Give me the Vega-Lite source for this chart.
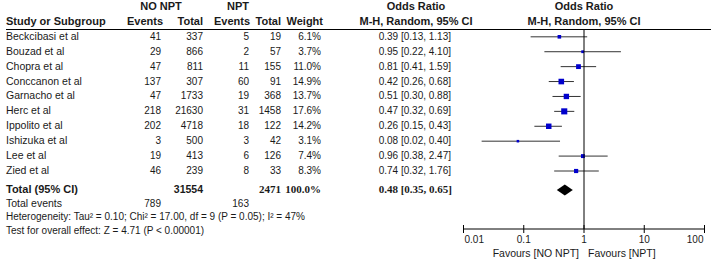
{
  "$schema": "https://vega.github.io/schema/vega-lite/v6.json",
  "width": 711,
  "height": 261,
  "autosize": {"type": "fit", "contains": "padding"},
  "padding": 0,
  "background": "white",
  "config": {
    "view": {"stroke": null},
    "text": {"font": "Liberation Sans", "fontSize": 10, "color": "#1a1a1a", "baseline": "middle"}
  },
  "datasets": {
    "studies": [
      {"study": "Beckcibasi et al", "e1": 41, "n1": 337, "e2": 5, "n2": 19, "weight": 0.061, "or": 0.39, "lo": 0.13, "hi": 1.13, "ci": "0.39 [0.13, 1.13]"},
      {"study": "Bouzad et al", "e1": 29, "n1": 866, "e2": 2, "n2": 57, "weight": 0.037, "or": 0.95, "lo": 0.22, "hi": 4.10, "ci": "0.95 [0.22, 4.10]"},
      {"study": "Chopra et al", "e1": 47, "n1": 811, "e2": 11, "n2": 155, "weight": 0.110, "or": 0.81, "lo": 0.41, "hi": 1.59, "ci": "0.81 [0.41, 1.59]"},
      {"study": "Conccanon et al", "e1": 137, "n1": 307, "e2": 60, "n2": 91, "weight": 0.149, "or": 0.42, "lo": 0.26, "hi": 0.68, "ci": "0.42 [0.26, 0.68]"},
      {"study": "Garnacho et al", "e1": 47, "n1": 1733, "e2": 19, "n2": 368, "weight": 0.137, "or": 0.51, "lo": 0.30, "hi": 0.88, "ci": "0.51 [0.30, 0.88]"},
      {"study": "Herc et al", "e1": 218, "n1": 21630, "e2": 31, "n2": 1458, "weight": 0.176, "or": 0.47, "lo": 0.32, "hi": 0.69, "ci": "0.47 [0.32, 0.69]"},
      {"study": "Ippolito et al", "e1": 202, "n1": 4718, "e2": 18, "n2": 122, "weight": 0.142, "or": 0.26, "lo": 0.15, "hi": 0.43, "ci": "0.26 [0.15, 0.43]"},
      {"study": "Ishizuka et al", "e1": 3, "n1": 500, "e2": 3, "n2": 42, "weight": 0.031, "or": 0.08, "lo": 0.02, "hi": 0.40, "ci": "0.08 [0.02, 0.40]"},
      {"study": "Lee et al", "e1": 19, "n1": 413, "e2": 6, "n2": 126, "weight": 0.074, "or": 0.96, "lo": 0.38, "hi": 2.47, "ci": "0.96 [0.38, 2.47]"},
      {"study": "Zied et al", "e1": 46, "n1": 239, "e2": 8, "n2": 33, "weight": 0.083, "or": 0.74, "lo": 0.32, "hi": 1.76, "ci": "0.74 [0.32, 1.76]"}
    ],
    "total": [
      {"label": "Total (95% CI)", "n1": 31554, "n2": 2471, "weight": 1.0, "or": 0.48, "lo": 0.35, "hi": 0.65, "ci": "0.48 [0.35, 0.65]"}
    ],
    "events": [
      {"label": "Total events", "e1": 789, "e2": 163}
    ],
    "notes": [
      {"label": "Heterogeneity", "text": "Heterogeneity: Tau² = 0.10; Chi² = 17.00, df = 9 (P = 0.05); I² = 47%"},
      {"label": "Test", "text": "Test for overall effect: Z = 4.71 (P < 0.00001)"}
    ],
    "ticks": [
      {"t": 0.01, "label": "0.01"},
      {"t": 0.1, "label": "0.1"},
      {"t": 1, "label": "1"},
      {"t": 10, "label": "10"},
      {"t": 100, "label": "100"}
    ]
  },
  "resolve": {"scale": {"y": "independent"}},
  "layer": [
    {
      "layer": [
        {
          "data": {"name": "studies"},
          "mark": {"type": "text", "align": "left", "fontSize": 10.5},
          "encoding": {
            "x": {"value": 6},
            "y": {"field": "study", "type": "nominal", "axis": null,
                  "scale": {"type": "point", "padding": 0, "range": [7, 171],
                            "domain": ["h1", "h2", "Beckcibasi et al", "Bouzad et al", "Chopra et al", "Conccanon et al", "Garnacho et al", "Herc et al", "Ippolito et al", "Ishizuka et al", "Lee et al", "Zied et al"]}},
            "text": {"field": "study"}
          }
        },
        {"data": {"name": "studies"}, "mark": {"type": "text", "align": "right"},
         "encoding": {"x": {"value": 161}, "y": {"field": "study", "type": "nominal"}, "text": {"field": "e1", "type": "quantitative", "format": "d"}}},
        {"data": {"name": "studies"}, "mark": {"type": "text", "align": "right"},
         "encoding": {"x": {"value": 203}, "y": {"field": "study", "type": "nominal"}, "text": {"field": "n1", "type": "quantitative", "format": "d"}}},
        {"data": {"name": "studies"}, "mark": {"type": "text", "align": "right"},
         "encoding": {"x": {"value": 249}, "y": {"field": "study", "type": "nominal"}, "text": {"field": "e2", "type": "quantitative", "format": "d"}}},
        {"data": {"name": "studies"}, "mark": {"type": "text", "align": "right"},
         "encoding": {"x": {"value": 281}, "y": {"field": "study", "type": "nominal"}, "text": {"field": "n2", "type": "quantitative", "format": "d"}}},
        {"data": {"name": "studies"}, "mark": {"type": "text", "align": "right"},
         "encoding": {"x": {"value": 321}, "y": {"field": "study", "type": "nominal"}, "text": {"field": "weight", "type": "quantitative", "format": ".1%"}}},
        {"data": {"name": "studies"}, "mark": {"type": "text", "align": "right"},
         "encoding": {"x": {"value": 451}, "y": {"field": "study", "type": "nominal"}, "text": {"field": "ci"}}},

        {"data": {"values": [{}]}, "mark": {"type": "text", "align": "center", "fontWeight": "bold", "fontSize": 11},
         "encoding": {"x": {"value": 161}, "y": {"datum": "h1", "type": "nominal"}, "text": {"value": "NO NPT"}}},
        {"data": {"values": [{}]}, "mark": {"type": "text", "align": "center", "fontWeight": "bold", "fontSize": 11},
         "encoding": {"x": {"value": 238}, "y": {"datum": "h1", "type": "nominal"}, "text": {"value": "NPT"}}},
        {"data": {"values": [{}]}, "mark": {"type": "text", "align": "center", "fontWeight": "bold", "fontSize": 11},
         "encoding": {"x": {"value": 416}, "y": {"datum": "h1", "type": "nominal"}, "text": {"value": "Odds Ratio"}}},
        {"data": {"values": [{}]}, "mark": {"type": "text", "align": "center", "fontWeight": "bold", "fontSize": 11},
         "encoding": {"x": {"value": 584}, "y": {"datum": "h1", "type": "nominal"}, "text": {"value": "Odds Ratio"}}},
        {"data": {"values": [{}]}, "mark": {"type": "text", "align": "left", "fontWeight": "bold", "fontSize": 11},
         "encoding": {"x": {"value": 6}, "y": {"datum": "h2", "type": "nominal"}, "text": {"value": "Study or Subgroup"}}},
        {"data": {"values": [{}]}, "mark": {"type": "text", "align": "right", "fontWeight": "bold", "fontSize": 11},
         "encoding": {"x": {"value": 163}, "y": {"datum": "h2", "type": "nominal"}, "text": {"value": "Events"}}},
        {"data": {"values": [{}]}, "mark": {"type": "text", "align": "right", "fontWeight": "bold", "fontSize": 11},
         "encoding": {"x": {"value": 203}, "y": {"datum": "h2", "type": "nominal"}, "text": {"value": "Total"}}},
        {"data": {"values": [{}]}, "mark": {"type": "text", "align": "right", "fontWeight": "bold", "fontSize": 11},
         "encoding": {"x": {"value": 250}, "y": {"datum": "h2", "type": "nominal"}, "text": {"value": "Events"}}},
        {"data": {"values": [{}]}, "mark": {"type": "text", "align": "right", "fontWeight": "bold", "fontSize": 11},
         "encoding": {"x": {"value": 281}, "y": {"datum": "h2", "type": "nominal"}, "text": {"value": "Total"}}},
        {"data": {"values": [{}]}, "mark": {"type": "text", "align": "right", "fontWeight": "bold", "fontSize": 11},
         "encoding": {"x": {"value": 323}, "y": {"datum": "h2", "type": "nominal"}, "text": {"value": "Weight"}}},
        {"data": {"values": [{}]}, "mark": {"type": "text", "align": "center", "fontWeight": "bold", "fontSize": 11},
         "encoding": {"x": {"value": 416}, "y": {"datum": "h2", "type": "nominal"}, "text": {"value": "M-H, Random, 95% CI"}}},
        {"data": {"values": [{}]}, "mark": {"type": "text", "align": "center", "fontWeight": "bold", "fontSize": 11},
         "encoding": {"x": {"value": 584}, "y": {"datum": "h2", "type": "nominal"}, "text": {"value": "M-H, Random, 95% CI"}}},
        {"data": {"values": [{}]}, "mark": {"type": "rule", "color": "#000", "strokeWidth": 1},
         "encoding": {"x": {"value": 6}, "x2": {"value": 711}, "y": {"value": 29.5}}},

        {"data": {"name": "studies"}, "mark": {"type": "rule", "color": "#333", "strokeWidth": 1},
         "encoding": {
           "x": {"field": "lo", "type": "quantitative", "axis": null, "scale": {"type": "log", "domain": [0.01, 100], "range": [463.5, 704.5]}},
           "x2": {"field": "hi"},
           "y": {"field": "study", "type": "nominal"}
         }},
        {"data": {"name": "studies"}, "mark": {"type": "square", "filled": true, "color": "#0000CC", "opacity": 1},
         "encoding": {
           "x": {"field": "or", "type": "quantitative"},
           "y": {"field": "study", "type": "nominal"},
           "size": {"field": "weight", "type": "quantitative", "legend": null, "scale": {"type": "linear", "domain": [0, 0.18], "range": [0, 38]}}
         }}
      ]
    },
    {
      "layer": [
        {"data": {"name": "total"}, "mark": {"type": "text", "align": "left", "fontWeight": "bold", "fontSize": 11},
         "encoding": {"x": {"value": 6},
                      "y": {"field": "label", "type": "nominal", "axis": null,
                            "scale": {"type": "point", "padding": 0, "range": [190, 231], "domain": ["Total (95% CI)", "Total events", "Heterogeneity", "Test"]}},
                      "text": {"field": "label"}}},
        {"data": {"name": "total"}, "mark": {"type": "text", "align": "right", "fontWeight": "bold", "fontSize": 10.5},
         "encoding": {"x": {"value": 203}, "y": {"field": "label", "type": "nominal"}, "text": {"field": "n1", "type": "quantitative", "format": "d"}}},
        {"data": {"name": "total"}, "mark": {"type": "text", "align": "right", "fontWeight": "bold", "font": "Liberation Serif", "fontSize": 11},
         "encoding": {"x": {"value": 281}, "y": {"field": "label", "type": "nominal"}, "text": {"field": "n2", "type": "quantitative", "format": "d"}}},
        {"data": {"name": "total"}, "mark": {"type": "text", "align": "right", "fontWeight": "bold", "font": "Liberation Serif", "fontSize": 11},
         "encoding": {"x": {"value": 321}, "y": {"field": "label", "type": "nominal"}, "text": {"field": "weight", "type": "quantitative", "format": ".1%"}}},
        {"data": {"name": "total"}, "mark": {"type": "text", "align": "right", "fontWeight": "bold", "font": "Liberation Serif", "fontSize": 11},
         "encoding": {"x": {"value": 452}, "y": {"field": "label", "type": "nominal"}, "text": {"field": "ci"}}},
        {"data": {"name": "total"}, "mark": {"type": "point", "shape": "M-1,0L0,-0.7L1,0L0,0.7Z", "filled": true, "color": "#000", "opacity": 1, "size": 256},
         "encoding": {"x": {"field": "or", "type": "quantitative"}, "y": {"field": "label", "type": "nominal"}}},

        {"data": {"name": "events"}, "mark": {"type": "text", "align": "left", "fontSize": 10.5},
         "encoding": {"x": {"value": 6}, "y": {"field": "label", "type": "nominal"}, "text": {"field": "label"}}},
        {"data": {"name": "events"}, "mark": {"type": "text", "align": "right"},
         "encoding": {"x": {"value": 161}, "y": {"field": "label", "type": "nominal"}, "text": {"field": "e1", "type": "quantitative", "format": "d"}}},
        {"data": {"name": "events"}, "mark": {"type": "text", "align": "right"},
         "encoding": {"x": {"value": 249}, "y": {"field": "label", "type": "nominal"}, "text": {"field": "e2", "type": "quantitative", "format": "d"}}},
        {"data": {"name": "notes"}, "mark": {"type": "text", "align": "left"},
         "encoding": {"x": {"value": 6}, "y": {"field": "label", "type": "nominal"}, "text": {"field": "text"}}}
      ]
    },
    {
      "layer": [
        {"data": {"values": [{}]}, "mark": {"type": "rule", "color": "#000", "strokeWidth": 1},
         "encoding": {"x": {"datum": 1, "type": "quantitative"}, "y": {"value": 29.5}, "y2": {"value": 229}}},
        {"data": {"values": [{}]}, "mark": {"type": "rule", "color": "#000", "strokeWidth": 1},
         "encoding": {"x": {"datum": 0.01, "type": "quantitative"}, "x2": {"datum": 100}, "y": {"value": 229}}},
        {"data": {"name": "ticks"}, "mark": {"type": "rule", "color": "#000", "strokeWidth": 1},
         "encoding": {"x": {"field": "t", "type": "quantitative"}, "y": {"value": 225}, "y2": {"value": 233}}},
        {"data": {"name": "ticks"}, "transform": [{"filter": "datum.t > 0.01 && datum.t < 100"}],
         "mark": {"type": "text", "align": "center"},
         "encoding": {"x": {"field": "t", "type": "quantitative"}, "y": {"value": 240}, "text": {"field": "label"}}},
        {"data": {"name": "ticks"}, "transform": [{"filter": "datum.t == 0.01"}],
         "mark": {"type": "text", "align": "left", "dx": 1},
         "encoding": {"x": {"field": "t", "type": "quantitative"}, "y": {"value": 240}, "text": {"field": "label"}}},
        {"data": {"name": "ticks"}, "transform": [{"filter": "datum.t == 100"}],
         "mark": {"type": "text", "align": "right", "dx": -1},
         "encoding": {"x": {"field": "t", "type": "quantitative"}, "y": {"value": 240}, "text": {"field": "label"}}},
        {"data": {"values": [{}]}, "mark": {"type": "text", "align": "right", "dx": -5, "fontSize": 10.5},
         "encoding": {"x": {"datum": 1, "type": "quantitative"}, "y": {"value": 254}, "text": {"value": "Favours [NO NPT]"}}},
        {"data": {"values": [{}]}, "mark": {"type": "text", "align": "left", "dx": 4, "fontSize": 10.5},
         "encoding": {"x": {"datum": 1, "type": "quantitative"}, "y": {"value": 254}, "text": {"value": "Favours [NPT]"}}}
      ]
    }
  ]
}
